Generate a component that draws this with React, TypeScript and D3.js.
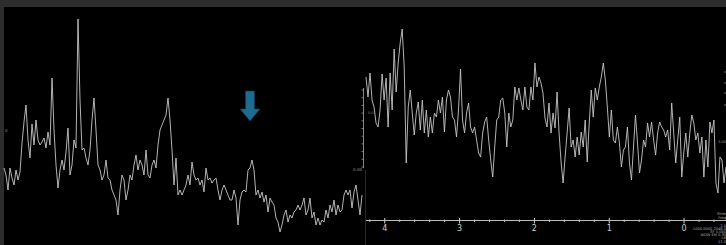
import * as d3 from 'd3';

// left spectrum (no axis shown) - intensity, arbitrary units, uniform sampling
const leftIntensity = [
  72, 65, 50, 72, 62, 55, 70, 60, 68, 97, 118, 135, 100, 82, 116, 95, 120, 100, 95, 98,
  102, 92, 108, 95, 162, 110, 75, 52, 70, 80, 70, 88, 112, 65, 75, 100, 92, 221, 140, 90,
  92, 82, 75, 90, 120, 142, 110, 75, 70, 60, 65, 80, 62, 60, 50, 45, 40, 25, 50, 65,
  60, 40, 50, 65, 60, 75, 85, 70, 80, 75, 65, 90, 65, 62, 75, 80, 72, 95, 110, 115,
  120, 125, 142, 120, 90, 55, 82, 45, 50, 45, 50, 55, 65, 55, 78, 65, 60, 62, 55, 60,
  48, 72, 60, 62, 57, 60, 62, 50, 40, 50, 55, 50, 45, 40, 40, 50, 42, 15, 40, 48,
  50, 48, 70, 72, 80, 70, 45, 50, 42, 48, 38, 45, 28, 42, 38, 35, 22, 18, 8, 15,
  25, 30, 18, 25, 22, 28, 30, 35, 30, 35, 42, 25, 30, 42, 22, 28, 15, 22, 15, 20,
  18, 30, 22, 35, 28, 40, 25, 35, 28, 30, 45, 50, 45, 50, 32, 48, 55, 40, 25, 45,
];

// right spectrum - intensity over chemical shift (ppm)
const rightIntensity = [
  163, 143, 167, 140, 133, 117, 113, 130, 166, 140, 162, 113, 167, 130, 191, 148, 177, 197, 211, 173,
  77, 133, 150, 127, 105, 127, 138, 110, 140, 107, 130, 103, 123, 107, 127, 123, 140, 127, 143, 108,
  140, 150, 143, 123, 120, 103, 130, 171, 120, 107, 127, 137, 113, 107, 113, 100, 87, 83, 107, 118,
  123, 100, 80, 63, 93, 120, 123, 140, 142, 127, 93, 127, 113, 120, 153, 140, 152, 140, 130, 153,
  133, 130, 153, 140, 177, 153, 163, 157, 147, 122, 113, 137, 107, 127, 112, 148, 107, 78, 57, 83,
  107, 132, 93, 100, 83, 103, 85, 108, 93, 120, 78, 117, 150, 123, 152, 140, 153, 163,
  177, 160, 133, 103, 130, 100, 97, 113, 97, 73, 90, 93, 113, 77, 60, 93, 125, 97, 67, 80,
  100, 93, 117, 103, 118, 100, 85, 107, 118, 113, 110, 103, 110, 90, 137, 107, 77, 100, 123, 63,
  87, 107, 83, 107, 125, 117, 100, 107, 87, 103, 63, 100, 73, 118, 107, 120, 57, 47, 83, 80,
  57, 73,
];
const ppmStart = 4.25;
const ppmEnd = -0.56;
const ppmTicks = [4, 3, 2, 1, 0];

const W = 726;
const H = 245;
const lineColor = '#c6c6c6';

export default function App() {
  const yScale = d3.scaleLinear().domain([0, 240]).range([240, 0]);

  // left panel
  const xLeft = d3.scaleLinear().domain([0, leftIntensity.length - 1]).range([4, 362]);
  const leftLine = d3
    .line<number>()
    .x((_, i) => xLeft(i))
    .y((d) => yScale(d));

  // right panel
  const xPpm = d3.scaleLinear().domain([ppmStart, ppmEnd]).range([366, 726]);
  const idxToPpm = d3.scaleLinear().domain([0, rightIntensity.length - 1]).range([ppmStart, ppmEnd]);
  const rightLine = d3
    .line<number>()
    .x((_, i) => xPpm(idxToPpm(i)))
    .y((d) => yScale(d));
  const minorTicks = d3
    .range(ppmStart, ppmEnd, -0.2)
    .map((v) => Math.round(v * 5) / 5)
    .filter((v) => !ppmTicks.includes(v));
  const axisY = 220.5;

  // intensity ticks on right panel's y axis
  const yTicks = d3.range(0, 11).map((i) => 90 + i * 7.7);

  // arrow above the small peak in the left spectrum
  const ax = xLeft(123);

  return (
    <svg width={W} height={H} style={{ position: 'absolute', left: 0, top: 0, display: 'block' }}>
      <rect x={0} y={0} width={W} height={H} fill="#2d2d2d" />
      <rect x={4} y={7} width={W - 4} height={H - 7} fill="#000" />

      <path d={leftLine(leftIntensity) ?? ''} fill="none" stroke={lineColor} strokeWidth={0.9} />
      <text x={5} y={132} fontSize={4} fill="#888" fontFamily="DejaVu Sans">0</text>

      {/* right panel */}
      <line x1={365.5} y1={170} x2={365.5} y2={H} stroke="#262626" strokeWidth={1} />
      <line x1={363.5} y1={88} x2={363.5} y2={168} stroke="#aaa" strokeWidth={0.8} />
      {yTicks.map((t) => (
        <line key={t} x1={361.5} x2={363.5} y1={t} y2={t} stroke="#aaa" strokeWidth={0.7} />
      ))}
      <text x={362} y={171} fontSize={4} fill="#999" textAnchor="end" fontFamily="DejaVu Sans">0.00</text>
      <text x={368} y={114} fontSize={3.5} fill="#888" fontFamily="DejaVu Sans">0.0</text>

      <path d={rightLine(rightIntensity) ?? ''} fill="none" stroke={lineColor} strokeWidth={0.9} />

      <line x1={366} x2={W} y1={axisY} y2={axisY} stroke="#bdbdbd" strokeWidth={1} />
      {minorTicks.map((t) => (
        <line key={t} x1={xPpm(t)} x2={xPpm(t)} y1={axisY - 1} y2={axisY + 1.5} stroke="#bdbdbd" strokeWidth={1} />
      ))}
      {ppmTicks.map((t) => (
        <g key={t}>
          <line x1={xPpm(t)} x2={xPpm(t)} y1={axisY - 2.5} y2={axisY + 3} stroke="#d0d0d0" strokeWidth={1} />
          <text x={xPpm(t)} y={231} fontSize={8} fill="#cfcfcf" textAnchor="middle" fontFamily="DejaVu Sans">
            {t}
          </text>
        </g>
      ))}

      {/* right-edge intensity ticks */}
      {[72, 83, 93, 105].map((t) => (
        <line key={t} x1={724} x2={726} y1={t} y2={t} stroke="#999" strokeWidth={0.7} />
      ))}
      <text x={726} y={143} fontSize={3.5} fill="#999" textAnchor="end" fontFamily="DejaVu Sans">5.00</text>

      {/* acquisition parameters block */}
      <g fontSize={3.6} fill="#aaa" fontFamily="DejaVu Sans" textAnchor="end">
        <text x={726} y={215}>Shim</text>
        <text x={726} y={219}>Freq</text>
        <text x={726} y={227}>2.0</text>
        <text x={726} y={230}>1000.0000 2048.0</text>
        <text x={726} y={233}>SF 5.000</text>
        <text x={726} y={236}>WDW EM 0.30</text>
        <text x={726} y={239}>LB</text>
        <text x={726} y={243}>12.0</text>
      </g>

      {/* arrow */}
      <g fill="#1f6b90" stroke="#0f3a50" strokeWidth={0.6}>
        <path
          d={`M${ax - 4.5},91 L${ax + 4.5},91 L${ax + 4.5},109 L${ax + 10},109 L${ax},121 L${ax - 10},109 L${ax - 4.5},109 Z`}
        />
      </g>
    </svg>
  );
}
